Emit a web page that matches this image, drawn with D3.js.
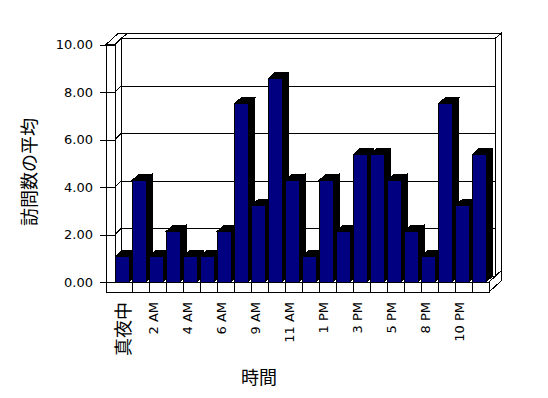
<!DOCTYPE html>
<html lang="ja">
<head>
<meta charset="UTF-8">
<title>訪問数の平均</title>
<script src="https://d3js.org/d3.v7.min.js"></script>
<style>
  body { margin: 0; background: #fff; }
  svg { display: block; }
  .frame path, .frame line, .bar { shape-rendering: crispEdges; }
  text { font-family: "DejaVu Sans", "Noto Sans CJK JP", sans-serif; fill: #000; }
</style>
</head>
<body>
<div id="chart"></div>
<script>
// data
const categories = ["真夜中", "1 AM", "2 AM", "3 AM", "4 AM", "5 AM", "6 AM", "7 AM", "9 AM", "10 AM", "11 AM",
  "12 PM", "1 PM", "2 PM", "3 PM", "4 PM", "5 PM", "6 PM", "8 PM", "9 PM", "10 PM", "11 PM"];
const visits = [1.07, 4.29, 1.07, 2.14, 1.07, 1.07, 2.14, 7.5, 3.21, 8.57, 4.29,
  1.07, 4.29, 2.14, 5.36, 5.36, 4.29, 2.14, 1.07, 7.5, 3.21, 5.36];
const xTickLabels = ["真夜中", "2 AM", "4 AM", "6 AM", "9 AM", "11 AM", "1 PM", "3 PM", "5 PM", "8 PM", "10 PM"];
const yTicks = [0, 2, 4, 6, 8, 10];

const W = 548, H = 398;
const svg = d3.select("#chart").append("svg").attr("width", W).attr("height", H);

// front plane scales
const x = d3.scaleBand().domain(categories).range([115, 489]);
const y = d3.scaleLinear().domain([0, 10]).range([282, 44.5]);

// oblique depth: plot depth, back wall thickness, bar depth
const dp = [6, -6], bw = [6, -5], bd = [6.5, -6];
const leftWall = 9, floorT = 10;

const poly = pts => "M" + pts.map(p => p.join(",")).join("L") + "Z";
const frame = svg.append("g").attr("class", "frame")
  .attr("fill", "#fff").attr("stroke", "#000").attr("stroke-width", 1);

const x0 = x.range()[0], x1 = x.range()[1];
const yb = y(0), yt = y(10);

// back wall
const bx0 = x0 + dp[0], bx1 = x1 + dp[0], byT = yt + dp[1], byB = yb + dp[1];
frame.append("path").attr("d", poly([[bx0, byT], [bx1, byT], [bx1 + bw[0], byT + bw[1]], [bx0 + bw[0], byT + bw[1]]]));
frame.append("path").attr("d", poly([[bx1, byT], [bx1 + bw[0], byT + bw[1]], [bx1 + bw[0], byB + bw[1]], [bx1, byB]]));
frame.append("path").attr("d", poly([[bx0, byT], [bx1, byT], [bx1, byB], [bx0, byB]]));

// gridlines on the back wall and left wall inner face
yTicks.forEach(t => {
  frame.append("line").attr("x1", bx0).attr("x2", bx1).attr("y1", y(t) + dp[1]).attr("y2", y(t) + dp[1]);
});

// left wall
const lx = x0 - leftWall;
frame.append("path").attr("d", poly([[lx, yt], [x0, yt], [x0, yb + floorT], [lx, yb + floorT]]));
frame.append("path").attr("d", poly([[lx, yt], [x0, yt], [x0 + dp[0] + bw[0], yt + dp[1] + bw[1]], [lx + dp[0] + bw[0], yt + dp[1] + bw[1]]]));
frame.append("path").attr("d", poly([[x0, yt], [bx0, byT], [bx0, byB], [x0, yb]]));
yTicks.forEach(t => {
  frame.append("line").attr("x1", x0).attr("x2", bx0).attr("y1", y(t)).attr("y2", y(t) + dp[1]);
});

// floor
frame.append("path").attr("d", poly([[x0, yb], [x1, yb], [bx1, byB], [bx0, byB]]));
frame.append("path").attr("d", poly([[lx, yb], [x1, yb], [x1, yb + floorT], [lx, yb + floorT]]));
frame.append("path").attr("d", poly([[x1, yb], [x1 + dp[0] + bw[0], yb + dp[1] + bw[1]],
  [x1 + dp[0] + bw[0], yb + floorT + dp[1] + bw[1]], [x1, yb + floorT]]));
categories.slice(1).forEach(c => {
  frame.append("line").attr("x1", x(c)).attr("x2", x(c)).attr("y1", yb).attr("y2", yb + floorT);
});

// bars, left to right so each front covers the previous side
const barW = x.bandwidth() - 3.5;
const bars = svg.append("g").attr("stroke", "#000").attr("stroke-width", 1);
categories.forEach((c, i) => {
  const bx = x(c) + 0.5, top = y(visits[i]);
  const g = bars.append("g").attr("class", "bar");
  g.append("path").attr("fill", "#000").attr("d", poly([[bx + barW, top], [bx + barW + bd[0], top + bd[1]], [bx + barW + bd[0], yb + bd[1]], [bx + barW, yb]]));
  g.append("path").attr("fill", "#000").attr("d", poly([[bx, top], [bx + bd[0], top + bd[1]], [bx + barW + bd[0], top + bd[1]], [bx + barW, top]]));
  g.append("rect").attr("fill", "#000080").attr("x", bx).attr("y", top).attr("width", barW).attr("height", yb - top);
});

// y axis ticks and labels
const yAxis = svg.append("g").attr("class", "frame").attr("transform", `translate(${x0},0)`)
  .call(d3.axisLeft(y).tickValues(yTicks).tickSize(15).tickPadding(7).tickFormat(d3.format(".2f")));
yAxis.select(".domain").remove();
yAxis.selectAll("text").attr("font-size", 13).attr("font-family", null);

// x axis labels
const xAxis = svg.append("g").attr("transform", `translate(0,${yb + floorT})`)
  .call(d3.axisBottom(x).tickValues(xTickLabels).tickSize(0));
xAxis.select(".domain").remove();
const isCJK = s => /[\u3000-\u9fff]/.test(s);
xAxis.selectAll("text")
  .attr("transform", "rotate(-90)")
  .attr("text-anchor", "end")
  .attr("x", -10).attr("y", 0)
  .attr("dy", d => isCJK(d) ? "0.36em" : "0")
  .attr("font-family", null)
  .attr("font-size", d => isCJK(d) ? 18 : 13);

// axis titles
svg.append("text").attr("transform", "translate(36,172) rotate(-90)")
  .attr("text-anchor", "middle").attr("font-size", 18).text("訪問数の平均");
svg.append("text").attr("x", 259).attr("y", 384)
  .attr("text-anchor", "middle").attr("font-size", 18).text("時間");
</script>
</body>
</html>
